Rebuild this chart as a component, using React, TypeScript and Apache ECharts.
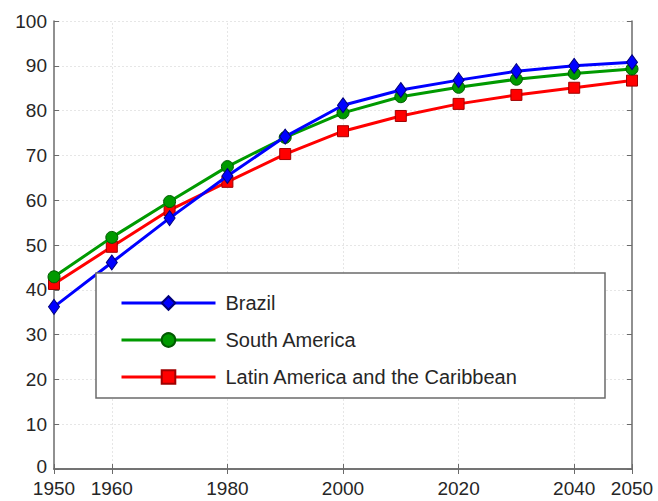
import React, { useEffect, useRef } from "react";
import * as echarts from "echarts";

const years = [1950, 1960, 1970, 1980, 1990, 2000, 2010, 2020, 2030, 2040, 2050];
const brazil = [36.2, 46.1, 56.0, 65.4, 74.2, 81.2, 84.6, 86.8, 88.8, 90.0, 90.8];
const southAmerica = [42.9, 51.7, 59.7, 67.5, 74.0, 79.5, 83.1, 85.2, 87.0, 88.3, 89.3];
const latinAmerica = [41.3, 49.6, 57.8, 64.1, 70.3, 75.4, 78.8, 81.5, 83.5, 85.1, 86.7];
const seriesNames = ["Brazil", "South America", "Latin America and the Caribbean"];
const xTickValues = [1950, 1960, 1980, 2000, 2020, 2040, 2050];
const xGridValues = [1960, 1980, 2000, 2020, 2040];

const FONT = 'Arial, "Liberation Sans", sans-serif';
const TEXT = "#262626";
const FRAME = "#6b6b6b";
const GRID = "#e6e6e6";

export default function App() {
  const ref = useRef<HTMLDivElement>(null);
  useEffect(() => {
    if (!ref.current) return;
    const chart = echarts.init(ref.current, undefined, { renderer: "svg" });
    const pair = (vals: number[]) => years.map((y, i) => [y, vals[i]]);
    chart.setOption({
      animation: false,
      backgroundColor: "#ffffff",
      grid: { left: 54, top: 21, right: 26, bottom: 32, containLabel: false },
      xAxis: [
        {
          type: "value",
          min: 1950,
          max: 2050,
          axisLine: { show: true, lineStyle: { color: FRAME, width: 1.5 } },
          axisTick: { show: true, inside: true, length: 5, customValues: xTickValues, lineStyle: { color: FRAME } },
          axisLabel: {
            customValues: xTickValues,
            color: TEXT,
            fontSize: 19,
            lineHeight: 17,
            fontFamily: FONT,
            margin: 11,
            formatter: (v: number) => String(v),
          },
          splitLine: { show: false },
        },
        {
          type: "value",
          position: "top",
          min: 1950,
          max: 2050,
          axisLine: { show: true, lineStyle: { color: FRAME, width: 1.5 } },
          axisTick: { show: true, inside: true, length: 5, customValues: xTickValues, lineStyle: { color: FRAME } },
          axisLabel: { show: false },
          splitLine: { show: false },
        },
      ],
      yAxis: [
        {
          type: "value",
          min: 0,
          max: 100,
          interval: 10,
          axisLine: { show: true, lineStyle: { color: FRAME, width: 1.5 } },
          axisTick: { show: true, inside: true, length: 5, lineStyle: { color: FRAME } },
          axisLabel: {
            color: TEXT,
            fontSize: 19,
            lineHeight: 16,
            fontFamily: FONT,
            margin: 7,
            formatter: (v: number) => (v === 0 ? "{z|0}" : String(v)),
            rich: { z: { color: TEXT, fontSize: 19, lineHeight: 16, fontFamily: FONT, padding: [0, 0, 5, 0] } },
          },
          splitLine: { show: true, lineStyle: { color: GRID, width: 1, type: [2, 2] as any } },
        },
        {
          type: "value",
          position: "right",
          min: 0,
          max: 100,
          interval: 10,
          axisLine: { show: true, lineStyle: { color: FRAME, width: 1.5 } },
          axisTick: { show: true, inside: true, length: 5, lineStyle: { color: FRAME } },
          axisLabel: { show: false },
          splitLine: { show: false },
        },
      ],
      legend: {
        orient: "vertical",
        left: 115,
        top: 288,
        z: 20,
        itemWidth: 94,
        itemHeight: 17,
        itemGap: 17,
        data: seriesNames,
        lineStyle: { width: 3 },
        textStyle: { color: TEXT, fontSize: 20, fontFamily: FONT, lineHeight: 20, padding: [0, 0, 0, 5] },
      },
      graphic: [
        {
          type: "rect",
          z: 15,
          shape: { x: 96, y: 273, width: 509, height: 125 },
          style: { fill: "#ffffff", stroke: FRAME, lineWidth: 1.5 },
        },
      ],
      series: [
        {
          name: "grid",
          type: "line",
          data: [],
          z: 0,
          silent: true,
          markLine: {
            silent: true,
            z: 0,
            symbol: "none",
            label: { show: false },
            lineStyle: { color: GRID, width: 1, type: [2, 2] as any },
            data: xGridValues.map((v) => ({ xAxis: v })),
          },
        },
        {
          name: seriesNames[0],
          type: "line",
          data: pair(brazil),
          z: 4,
          symbol: "diamond",
          symbolSize: [11, 15],
          lineStyle: { color: "#0000ff", width: 3 },
          itemStyle: { color: "#0000ff", borderColor: "#00007a", borderWidth: 1 },
        },
        {
          name: seriesNames[1],
          type: "line",
          data: pair(southAmerica),
          z: 3,
          symbol: "circle",
          symbolSize: 12,
          lineStyle: { color: "#009a00", width: 3 },
          itemStyle: { color: "#009a00", borderColor: "#005a00", borderWidth: 1 },
        },
        {
          name: seriesNames[2],
          type: "line",
          data: pair(latinAmerica),
          z: 2,
          symbol: "rect",
          symbolSize: 11,
          lineStyle: { color: "#ff0000", width: 3 },
          itemStyle: { color: "#ff0000", borderColor: "#a00000", borderWidth: 1 },
        },
      ],
    });
    return () => chart.dispose();
  }, []);
  return (
    <div
      ref={ref}
      style={{ position: "fixed", left: 0, top: 0, width: 658, height: 501, background: "#fff" }}
    />
  );
}
